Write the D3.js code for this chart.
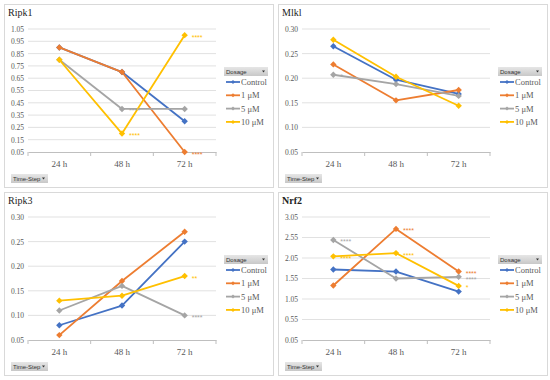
<!DOCTYPE html>
<html>
<head>
<meta charset="utf-8">
<script src="https://cdn.jsdelivr.net/npm/d3@7"></script>
<style>
  body { margin: 0; background: #fff; }
  svg { display: block; }
</style>
</head>
<body>
<svg id="chart" width="550" height="380"></svg>
<script>
// Data
const timeSteps = ['24 h', '48 h', '72 h'];
const dosages = ['Control', '1 μM', '5 μM', '10 μM'];
const colors = ['#4472C4', '#ED7D31', '#A5A5A5', '#FFC000'];

const ripk1Ticks = [0.05, 0.15, 0.25, 0.35, 0.45, 0.55, 0.65, 0.75, 0.85, 0.95, 1.05];
const ripk1Values = [
    [0.90, 0.70, 0.30],
    [0.90, 0.70, 0.05],
    [0.80, 0.40, 0.40],
    [0.80, 0.20, 1.00]
];
const ripk1Stars = [[3, 2, '****'], [2, 1, '****'], [3, 1, '****'], [1, 2, '****']];

const mlklTicks = [0.05, 0.10, 0.15, 0.20, 0.25, 0.30];
const mlklValues = [
    [0.265, 0.197, 0.168],
    [0.228, 0.155, 0.176],
    [0.207, 0.188, 0.164],
    [0.278, 0.203, 0.144]
];
const mlklStars = [[2, 0, '*']];

const ripk3Ticks = [0.05, 0.10, 0.15, 0.20, 0.25, 0.30];
const ripk3Values = [
    [0.08, 0.12, 0.25],
    [0.06, 0.17, 0.27],
    [0.11, 0.16, 0.10],
    [0.13, 0.14, 0.18]
];
const ripk3Stars = [[3, 2, '**'], [2, 2, '****']];

const nrf2Ticks = [0.05, 0.55, 1.05, 1.55, 2.05, 2.55, 3.05];
const nrf2Values = [
    [1.77, 1.72, 1.23],
    [1.38, 2.76, 1.72],
    [2.49, 1.55, 1.59],
    [2.09, 2.17, 1.37]
];
const nrf2Stars = [[2, 0, '****'], [3, 0, '****'], [1, 1, '****'], [3, 1, '****'],
                   [1, 2, '****'], [2, 2, '****'], [3, 2, '*']];

const panels = [
    { title: 'Ripk1', bold: false, x0: 4, y0: 4, ticks: ripk1Ticks, values: ripk1Values, stars: ripk1Stars },
    { title: 'Mlkl', bold: false, x0: 278, y0: 4, ticks: mlklTicks, values: mlklValues, stars: mlklStars },
    { title: 'Ripk3', bold: false, x0: 4, y0: 192, ticks: ripk3Ticks, values: ripk3Values, stars: ripk3Stars },
    { title: 'Nrf2', bold: true, x0: 278, y0: 192, ticks: nrf2Ticks, values: nrf2Values, stars: nrf2Stars }
];

const svg = d3.select('#chart');
const serif = '"Liberation Serif", "DejaVu Serif", serif';
const sans = '"Liberation Sans", Arial, sans-serif';

const defs = svg.append('defs');
const grad = defs.append('linearGradient').attr('id', 'btn').attr('x1', 0).attr('y1', 0).attr('x2', 0).attr('y2', 1);
grad.append('stop').attr('offset', 0).attr('stop-color', '#e6e6e6');
grad.append('stop').attr('offset', 1).attr('stop-color', '#c8c8c8');

function diamond(sel, r) {
    sel.attr('d', `M0,${-r}L${r},0L0,${r}L${-r},0Z`);
}

function button(g, x, y, w, label) {
    const b = g.append('g').attr('transform', `translate(${x},${y})`);
    b.append('rect').attr('width', w).attr('height', 9).attr('fill', 'url(#btn)');
    b.append('text').attr('x', 2).attr('y', 6.7).attr('font-family', sans)
        .attr('font-size', 6).attr('fill', '#333').text(label);
    b.append('path').attr('d', `M${w - 6},3.5L${w - 3},3.5L${w - 4.5},5.5Z`).attr('fill', '#333');
}

panels.forEach(p => {
    const g = svg.append('g').attr('transform', `translate(${p.x0},${p.y0})`);
    g.append('rect').attr('x', 0.5).attr('y', 0.5).attr('width', 269).attr('height', 183)
        .attr('fill', '#fff').attr('stroke', '#d9d9d9');

    g.append('text').attr('x', 4).attr('y', 12).attr('font-family', serif)
        .attr('font-size', 10).attr('font-weight', p.bold ? 'bold' : 'normal')
        .attr('fill', '#222').text(p.title);

    const left = 24, right = 212, top = 25, bottom = 148;
    const x = d3.scaleBand().domain(timeSteps).range([left, right]);
    const cx = c => x(c) + x.bandwidth() / 2;
    const y = d3.scaleLinear().domain([p.ticks[0], p.ticks[p.ticks.length - 1]]).range([bottom, top]);

    // gridlines
    g.append('g').selectAll('line').data(p.ticks.slice(1)).enter().append('line')
        .attr('x1', left).attr('x2', right).attr('y1', d => y(d)).attr('y2', d => y(d))
        .attr('stroke', '#d9d9d9').attr('stroke-width', 0.8);

    // y axis labels
    const ya = g.append('g').attr('transform', `translate(${left},0)`)
        .call(d3.axisLeft(y).tickValues(p.ticks).tickFormat(d3.format('.2f')).tickSize(0).tickPadding(4));
    ya.select('.domain').remove();
    ya.selectAll('text').attr('font-family', serif).attr('font-size', 7.5).attr('fill', '#595959');

    // x axis
    const xa = g.append('g').attr('transform', `translate(0,${bottom})`)
        .call(d3.axisBottom(x).tickSize(0).tickPadding(9));
    xa.select('.domain').attr('stroke', '#bfbfbf');
    xa.selectAll('text').attr('font-family', serif).attr('font-size', 9).attr('fill', '#595959');
    g.append('g').selectAll('line').data(d3.range(timeSteps.length + 1)).enter().append('line')
        .attr('x1', i => left + i * x.bandwidth()).attr('x2', i => left + i * x.bandwidth())
        .attr('y1', bottom).attr('y2', bottom + 4).attr('stroke', '#bfbfbf');

    // series
    const line = d3.line().x((d, i) => cx(timeSteps[i])).y(d => y(d));
    p.values.forEach((vals, s) => {
        g.append('path').datum(vals).attr('d', line).attr('fill', 'none')
            .attr('stroke', colors[s]).attr('stroke-width', 1.8).attr('stroke-linejoin', 'round');
        g.append('g').selectAll('path').data(vals).enter().append('path')
            .call(diamond, 3.2)
            .attr('transform', (d, i) => `translate(${cx(timeSteps[i])},${y(d)})`)
            .attr('fill', colors[s]);
    });

    // significance marks, pushed apart a little when they crowd one another
    const marks = p.stars.map(d => ({ s: d[0], c: d[1], txt: d[2], ly: y(p.values[d[0]][d[1]]) }));
    d3.range(timeSteps.length).forEach(c => {
        const col = marks.filter(m => m.c === c).sort((a, b) => a.ly - b.ly);
        for (let i = 1; i < col.length; i++) {
            const gap = col[i].ly - col[i - 1].ly;
            if (gap < 6) {
                const push = (6 - gap) / 2;
                col[i - 1].ly -= push;
                col[i].ly += push;
            }
        }
    });
    g.append('g').selectAll('text').data(marks).enter().append('text')
        .attr('x', d => cx(timeSteps[d.c]) + 7)
        .attr('y', d => d.ly + 4.5)
        .attr('font-family', sans).attr('font-size', 7).attr('fill', d => colors[d.s])
        .text(d => d.txt);

    // legend
    button(g, 220, 63, 44, 'Dosage');
    dosages.forEach((name, s) => {
        const ly = 78 + s * 13.3;
        g.append('line').attr('x1', 222).attr('x2', 236).attr('y1', ly).attr('y2', ly)
            .attr('stroke', colors[s]).attr('stroke-width', 1.8);
        g.append('path').call(diamond, 2).attr('transform', `translate(229,${ly})`).attr('fill', colors[s]);
        g.append('text').attr('x', 237).attr('y', ly + 3).attr('font-family', serif)
            .attr('font-size', 8.5).attr('fill', '#595959').text(name);
    });

    button(g, 7, 170, 37, 'Time-Step');
});
</script>
</body>
</html>
